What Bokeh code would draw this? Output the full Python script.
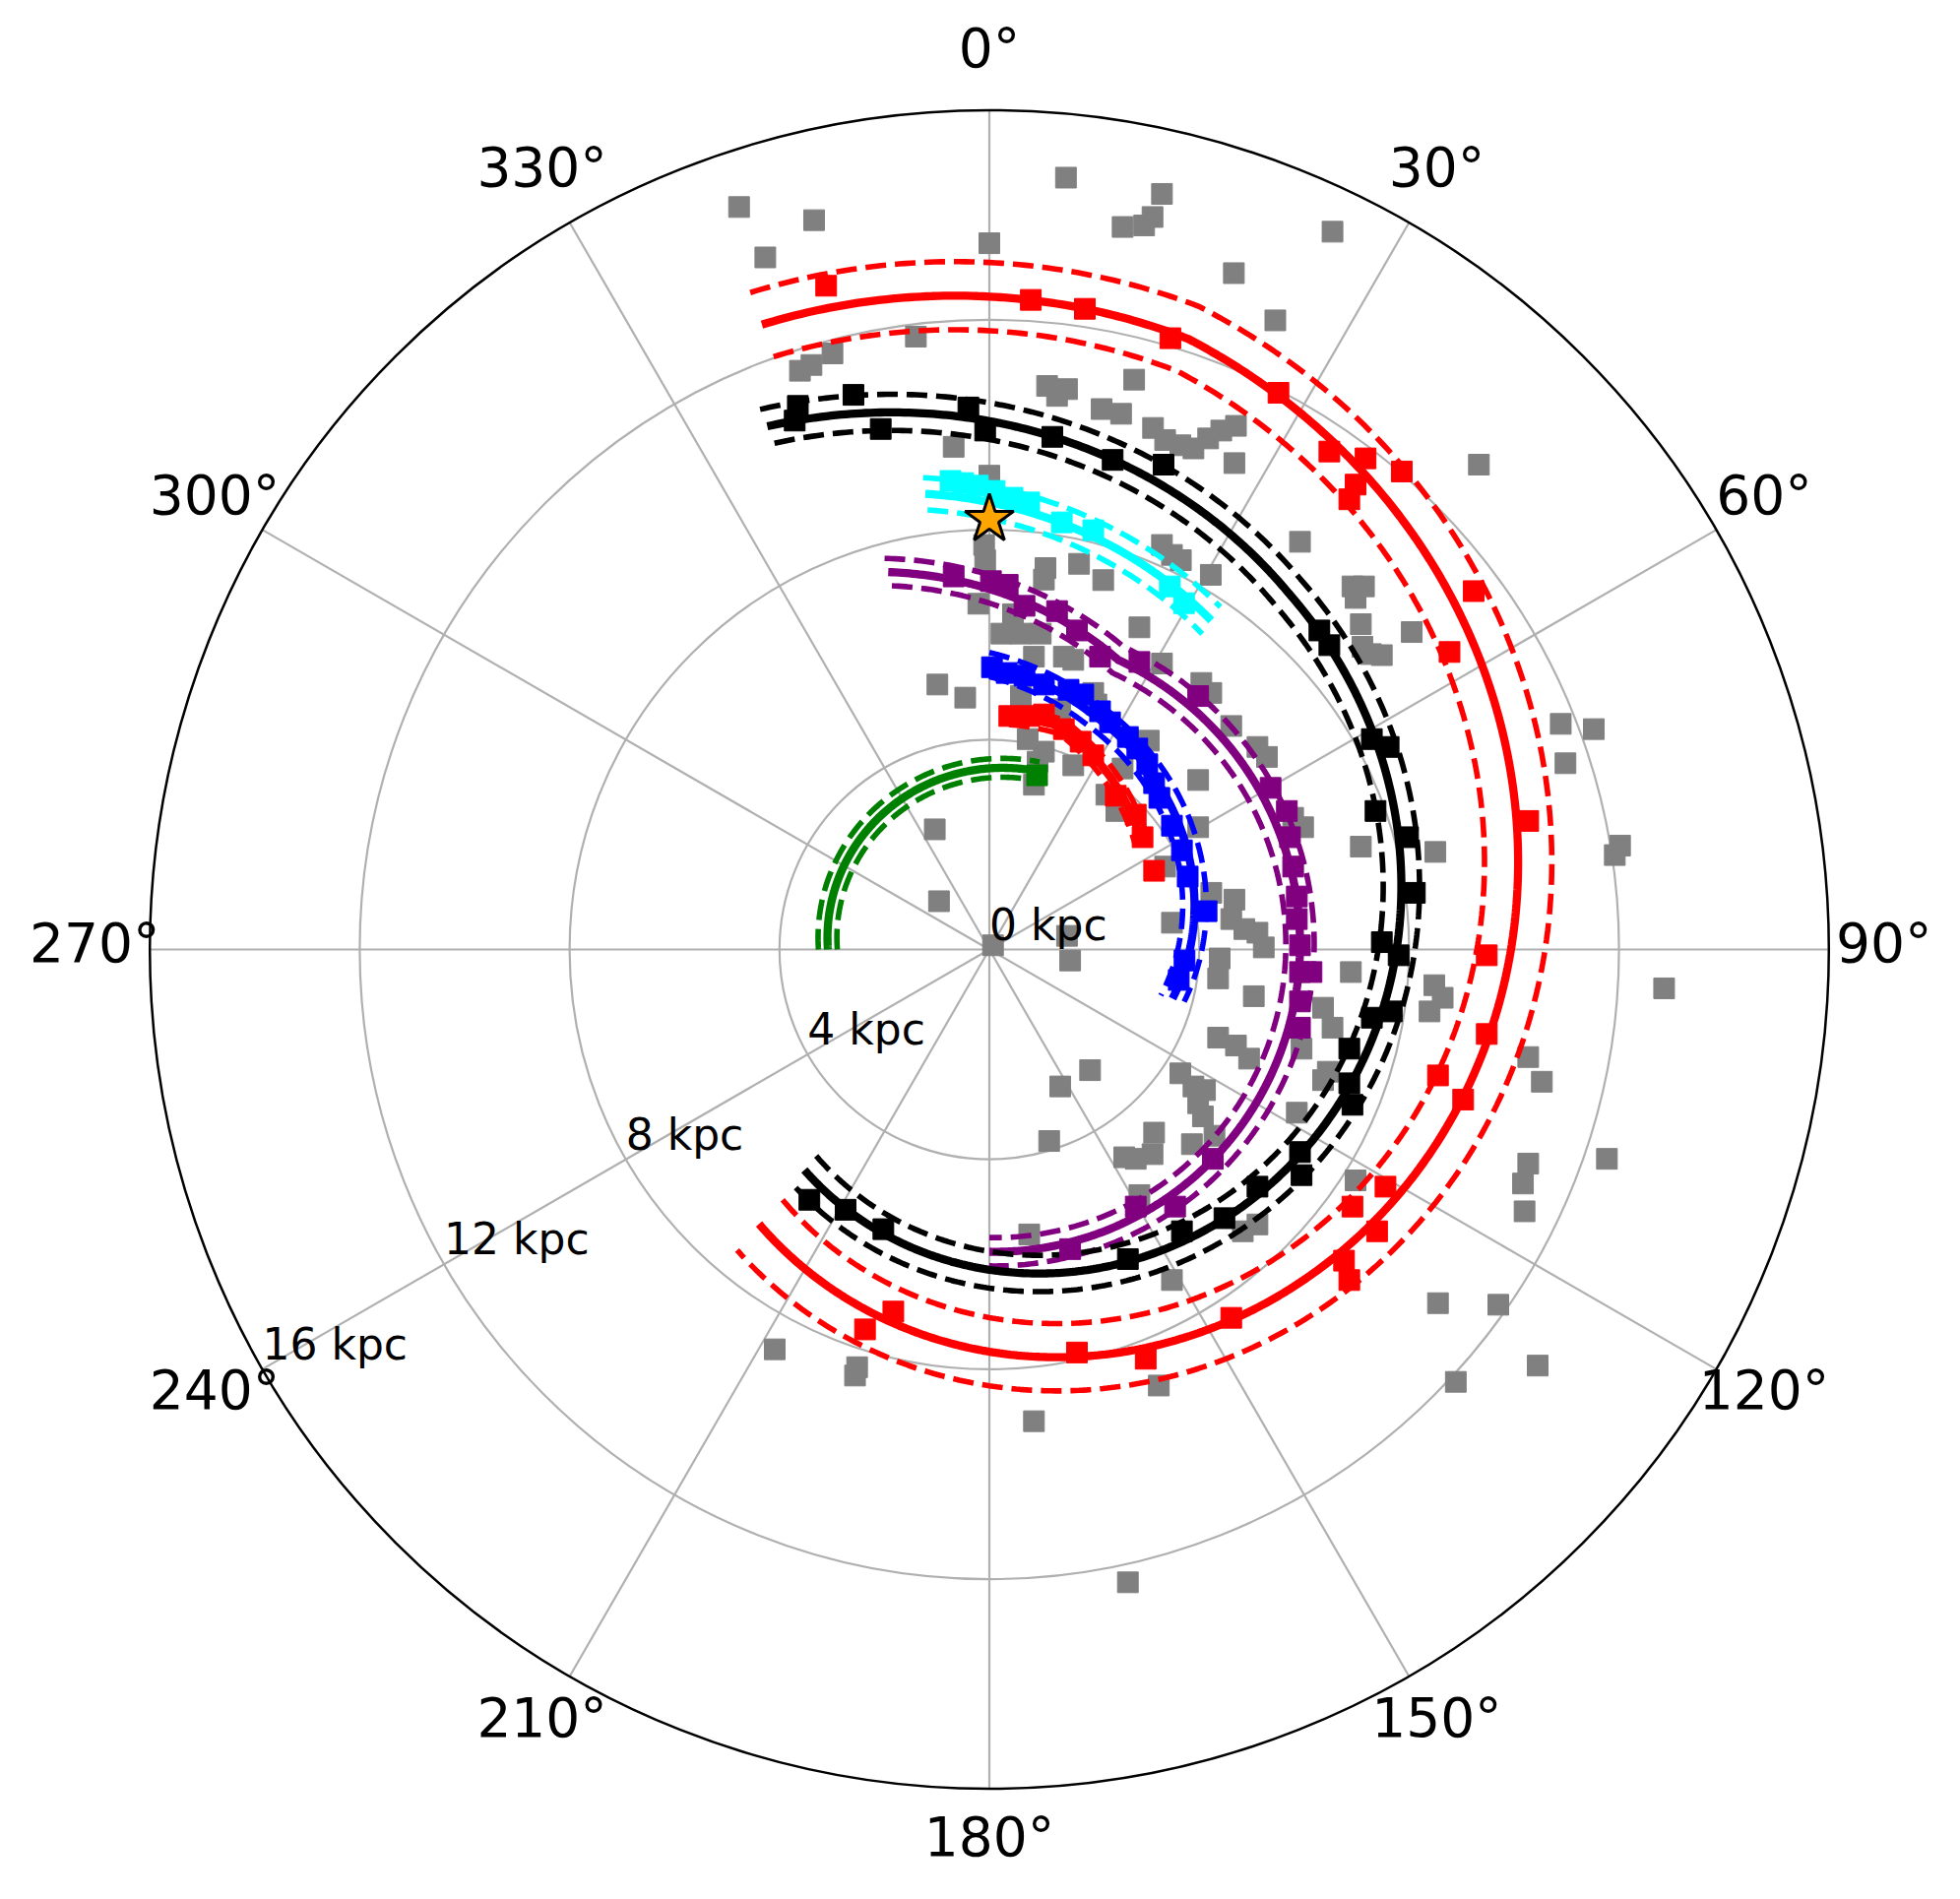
import numpy as np
from bokeh.plotting import figure
from bokeh.models import Range1d
from bokeh.embed import file_html
from bokeh.resources import INLINE
from bokeh.core.properties import value

# ---------------- data ----------------
R_MAX = 16.0
r_ticks = [0, 4, 8, 12, 16]
r_tick_labels = ["0 kpc", "4 kpc", "8 kpc", "12 kpc", "16 kpc"]
r_label_angle = 240.0
theta_ticks = [0, 30, 60, 90, 120, 150, 180, 210, 240, 270, 300, 330]
theta_tick_labels = ["0°", "30°", "60°", "90°", "120°", "150°", "180°",
                     "210°", "240°", "270°", "300°", "330°"]

sun_theta = 0.0
sun_r = 8.2

# log-spiral arm models (azimuth in deg, clockwise from Sun direction)
arm_names = ["3-kpc", "Norma", "Scutum", "Sgr-Car", "Local", "Perseus", "Outer"]
arm_colors = ["green", "red", "blue", "purple", "cyan", "black", "red"]
arm_beta_min = [-90, 5, 0, -15, -8, -23, -20]
arm_beta_max = [15, 54, 105, 180, 34, 220, 220]
arm_beta_kink = [15, 18, 23, 24, 9, 40, 18]
arm_r_kink = [3.52, 4.46, 4.91, 6.04, 8.26, 8.87, 12.24]
arm_pitch_before = [-4.2, -1.0, 14.1, 17.1, 11.4, 10.3, 3.0]
arm_pitch_after = [-4.2, 19.5, 12.1, 1.0, 11.4, 8.7, 9.4]
arm_width = [0.18, 0.14, 0.23, 0.27, 0.31, 0.35, 0.65]

# all sources (galactocentric x, y in kpc; y toward the Sun)
gray_x = [-4.77, -3.34, -4.27, 0.00, 1.46, 3.29, 3.11, 2.95, 2.54, 6.54, 4.66, 5.45,
          -1.40, -2.99, -3.61, -3.39, 1.10, 1.48, 1.29, 2.76, 2.14, 2.51, 3.12, 3.35,
          3.64, 3.89, 4.17, 4.42, 4.70, 4.67, -0.68, 0.00, -0.10, -0.08, 1.07, 1.04,
          1.71, 2.17, 3.29, 3.48, 3.65, 4.22, 2.86, -0.21, 0.45, 0.23, 0.60, 0.98,
          0.85, 1.42, 1.60, 3.29, 5.92, 6.92, 7.14, 6.98, 7.08, 8.05, 9.33, 7.11,
          7.48, 7.27, 1.98, 2.04, 0.60, 1.35, 0.73, 1.04, 0.92, 1.60, 0.85, 2.23,
          2.42, 3.04, 4.04, 4.23, 4.61, 5.11, 5.29, 3.98, 5.98, 5.79, 3.98, 3.35,
          3.48, 4.23, 4.67, 4.61, 4.86, 5.11, 5.23, 4.39, 4.36, 5.04, 1.54, 1.48,
          0.07, -0.99, -0.46, -1.04, -0.96, 6.89, 6.36, 6.54, 8.48, 8.64, 8.39, 4.36,
          4.70, 4.95, 5.95, 3.64, 3.89, 4.11, 3.98, 4.07, 4.29, 6.45, 6.36, 5.86,
          3.14, 3.11, 3.86, 2.79, 6.98, 2.86, 5.11, 4.83, 10.89, 11.52, 10.98, 12.02,
          11.92, 7.08, 8.50, 12.86, 10.27, 10.53, 10.27, 10.17, 10.20, 11.77, 8.55, 9.70,
          10.45, 8.89, 1.14, 2.57, 0.76, 3.48, 3.23, 0.85, 2.64, -4.09, -2.52, -2.56,
          1.92, 1.35, 2.54]
gray_y = [14.15, 13.90, 13.19, 13.46, 14.71, 14.40, 13.96, 13.80, 13.77, 13.68, 12.89, 11.99,
          11.68, 11.36, 11.03, 11.14, 10.74, 10.68, 10.55, 10.86, 10.30, 10.21, 9.94, 9.71,
          9.61, 9.55, 9.74, 9.89, 9.98, 9.27, 9.58, 9.03, 7.71, 7.42, 7.27, 7.05,
          7.35, 7.04, 7.71, 7.52, 7.42, 7.14, 6.14, 6.59, 6.39, 6.02, 6.02, 6.02,
          5.58, 5.58, 5.52, 5.45, 7.77, 6.92, 6.92, 6.70, 6.20, 6.05, 9.24, 5.77,
          5.61, 5.63, 4.89, 4.67, 4.83, 4.58, 4.01, 3.77, 3.58, 3.51, 3.14, 2.95,
          2.64, 3.98, 5.08, 4.89, 4.26, 3.86, 3.67, 3.23, 2.33, 2.51, 2.33, 1.58,
          0.51, 1.08, 0.95, 0.58, 0.39, 0.32, 0.04, -0.17, -0.55, -0.89, -0.21, 0.26,
          0.08, 5.05, 4.80, 2.29, 0.92, -0.43, -1.11, -1.49, -0.68, -0.92, -1.18, -1.68,
          -1.83, -2.08, -1.89, -2.36, -2.61, -2.68, -2.93, -3.18, -3.55, -2.33, -2.49, -3.11,
          -3.49, -3.90, -3.71, -3.99, -4.40, -4.68, -5.24, -5.37, 4.30, 4.20, 3.55, 1.98,
          1.80, 1.96, 1.86, -0.74, -2.05, -2.52, -4.08, -4.46, -4.99, -3.99, -6.74, -6.77,
          -7.93, -8.24, -3.65, -3.96, -5.43, -6.30, -8.31, -8.99, -12.06, -7.62, -7.96, -8.12,
          -2.30, -2.61, 3.45]

# sources assigned to arms
outer_x = [-3.11, 0.79, 1.82, 3.45, 5.51, 6.48, 7.17, 6.98, 6.86, 7.86, 9.23, 8.77, 10.27,
           9.48, 9.48, 8.55, 9.03, 7.55, 6.92, 7.39, 6.76, 6.86, 4.61, -1.83, -2.37, 1.67, 2.98]
outer_y = [12.65, 12.38, 12.21, 11.65, 10.61, 9.49, 9.36, 8.86, 8.58, 9.11, 6.83, 5.67, 2.45,
           -0.11, -1.61, -2.40, -2.86, -4.52, -4.90, -5.37, -5.93, -6.30, -7.02, -6.90, -7.24,
           -7.68, -7.80]
perseus_x = [-3.65, -3.71, -2.59, -2.07, -0.40, -0.08, 1.20, 2.35, 3.32, 6.29, 6.48, 7.29,
             7.61, 7.36, 7.98, 8.11, 7.48, 7.80, 7.29, 7.67, 6.86, 6.86, 6.92, 5.92, 5.95,
             5.11, 4.48, 3.67, 2.64, -2.02, -2.74, -3.43]
perseus_y = [10.36, 10.08, 10.57, 9.92, 10.33, 9.89, 9.77, 9.33, 9.24, 6.08, 5.80, 4.01,
             3.86, 2.64, 2.14, 1.08, 0.14, -0.11, -1.30, -1.18, -1.89, -2.55, -2.96, -3.86,
             -4.30, -4.52, -5.12, -5.37, -5.90, -5.33, -4.96, -4.77]
sgr_x = [-0.68, 0.03, 0.35, 0.67, 1.29, 1.67, 2.11, 2.86, 3.98, 5.36, 5.67, 5.73, 5.79,
         5.86, 5.86, 5.92, 5.92, 6.14, 5.92, 5.92, 4.26, 3.54, 2.79, 1.54]
sgr_y = [7.11, 7.02, 6.95, 6.55, 6.45, 6.08, 5.58, 5.48, 4.83, 3.08, 2.64, 2.14, 1.58,
         1.01, 0.58, 0.08, -0.43, -0.43, -0.99, -1.49, -3.99, -4.90, -4.90, -5.71]
scutum_x = [0.05, 0.33, 0.67, 1.04, 1.51, 1.79, 2.11, 2.30, 2.64, 2.82, 3.01, 3.14, 3.24,
            3.48, 3.67, 3.78, 4.14, 3.72, 3.61]
scutum_y = [5.38, 5.27, 5.22, 5.05, 4.95, 4.86, 4.54, 4.33, 4.05, 3.83, 3.53, 3.17, 2.89,
            2.36, 1.89, 1.39, 0.73, -0.21, -0.58]
norma_x = [0.38, 0.76, 1.04, 1.42, 1.74, 1.98, 2.41, 2.79, 2.92, 3.14]
norma_y = [4.45, 4.45, 4.48, 4.20, 3.96, 3.70, 2.93, 2.57, 2.14, 1.50]
local_x = [-0.74, -0.50, -0.22, 0.10, 0.44, 0.76, 1.38, 1.98, 3.44, 3.71]
local_y = [8.93, 8.89, 8.84, 8.74, 8.61, 8.52, 8.14, 7.99, 6.92, 6.60]
kpc3_x = [0.91]
kpc3_y = [3.32]

# ---------------- figure ----------------
W, H = 1975, 1913
PX = 53.3                 # pixels per kpc
CX, CY = 1004.5, 964.0    # pixel position of the Galactic centre
FONT = value("DejaVu Sans")
GRID = "#b0b0b0"

p = figure(width=W, height=H,
           x_range=Range1d(-CX / PX, (W - CX) / PX),
           y_range=Range1d(-(H - CY) / PX, CY / PX),
           toolbar_location=None, output_backend="svg",
           x_axis_location=None, y_axis_location=None, min_border=0)
p.xgrid.visible = False
p.ygrid.visible = False
p.outline_line_color = None
p.background_fill_color = "white"
p.border_fill_color = "white"


def polar_xy(theta_deg, r):
    t = np.radians(np.asarray(theta_deg, dtype=float))
    r = np.asarray(r, dtype=float)
    return r * np.sin(t), r * np.cos(t)


# grid circles & spokes
grid_r = [r for r in r_ticks if 0 < r < R_MAX]
p.circle(x=[0] * len(grid_r), y=[0] * len(grid_r), radius=grid_r,
         fill_color=None, line_color=GRID, line_width=2.2)
sx, sy = polar_xy(theta_ticks, [R_MAX] * len(theta_ticks))
p.segment(x0=[0] * len(theta_ticks), y0=[0] * len(theta_ticks), x1=sx, y1=sy,
          line_color=GRID, line_width=2.2)
p.circle(x=[0], y=[0], radius=[R_MAX], fill_color=None, line_color="black",
         line_width=2.5)

# all sources in gray
p.scatter(gray_x, gray_y, marker="square", size=21, color="gray")

# arm models
for i in range(len(arm_names)):
    beta = np.arange(arm_beta_min[i], arm_beta_max[i] + 0.25, 0.5)
    psi = np.where(beta < arm_beta_kink[i], arm_pitch_before[i], arm_pitch_after[i])
    R = arm_r_kink[i] * np.exp(-np.radians(beta - arm_beta_kink[i]) * np.tan(np.radians(psi)))
    c = arm_colors[i]
    x, y = polar_xy(beta, R)
    p.line(x, y, line_color=c, line_width=8.3)
    for sgn in (1, -1):
        x, y = polar_xy(beta, R + sgn * arm_width[i])
        p.line(x, y, line_color=c, line_width=5.6, line_dash="21 9")

# arm sources
for xs, ys, c in [(outer_x, outer_y, "red"), (perseus_x, perseus_y, "black"),
                  (local_x, local_y, "cyan"), (sgr_x, sgr_y, "purple"),
                  (scutum_x, scutum_y, "blue"), (norma_x, norma_y, "red"),
                  (kpc3_x, kpc3_y, "green")]:
    p.scatter(xs, ys, marker="square", size=21, color=c)

# Sun
sunx, suny = polar_xy([sun_theta], [sun_r])
p.scatter(sunx, suny, marker="star", size=52, fill_color="orange",
          line_color="black", line_width=3)

# angle labels
lx, ly = polar_xy(theta_ticks, [17.05] * len(theta_ticks))
p.text(lx, ly, text=theta_tick_labels, text_font=FONT, text_font_size="55px",
       text_align="center", text_baseline="middle", text_color="black",
       y_offset=-7)

# radial labels
rx, ry = polar_xy([r_label_angle] * len(r_ticks), r_ticks)
p.text(rx, ry, text=r_tick_labels, text_font=FONT, text_font_size="44px",
       text_align="left", text_baseline="bottom", text_color="black")

open("out.html", "w").write(file_html(p, INLINE))
